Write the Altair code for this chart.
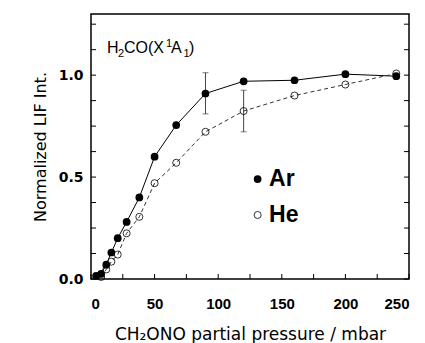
import altair as alt
import pandas as pd

# ---- data ----
ar_x = [4, 8, 12, 16, 21, 28, 38, 50, 67, 90, 120, 160, 200, 240]
ar_y = [0.015, 0.025, 0.07, 0.13, 0.20, 0.28, 0.40, 0.60, 0.755, 0.91, 0.97, 0.975, 1.005, 0.995]
he_x = [8, 12, 16, 21, 28, 38, 50, 67, 90, 120, 160, 200, 240]
he_y = [0.01, 0.047, 0.085, 0.12, 0.224, 0.305, 0.47, 0.57, 0.722, 0.824, 0.90, 0.954, 1.008]
err_series = ["Ar", "He"]
err_x = [90, 120]
err_lo = [0.81, 0.722]
err_hi = [1.012, 0.926]
x_major = [0, 50, 100, 150, 200, 250]
x_minor = [25, 75, 125, 175, 225]
y_ticks = [0.125 * i for i in range(11)]
legend_labels = ["Ar", "He"]
title_parts = ["H", "2", "CO(X", "1", "A", "1", ")"]

df = pd.concat([
    pd.DataFrame({"x": ar_x, "y": ar_y, "s": "Ar"}),
    pd.DataFrame({"x": he_x, "y": he_y, "s": "He"}),
])
err = pd.DataFrame({"s": err_series, "x": err_x, "lo": err_lo, "hi": err_hi})

X = alt.Scale(domain=[0, 250], nice=False, zero=False)
Y = alt.Scale(domain=[0, 1.3], nice=False, zero=False)
FONT = "Liberation Sans"
WIDE = "DejaVu Sans"

xenc = alt.X("x:Q", scale=X, axis=alt.Axis(
    values=x_major, format="d", tickSize=0, domain=False, grid=False,
    labelFont=FONT, labelFontSize=15, labelFontWeight="bold", labelColor="black",
    labelPadding=17, title="CH₂ONO partial pressure / mbar", titleFont=WIDE,
    titleFontSize=17, titleFontWeight="normal", titleColor="black", titlePadding=15))
yenc = alt.Y("y:Q", scale=Y, axis=alt.Axis(
    values=[0, 0.5, 1.0], format=".1f", tickSize=0, domain=False, grid=False,
    labelFont=WIDE, labelFontSize=14, labelFontWeight="bold", labelColor="black",
    labelPadding=8, title="Normalized LIF Int.", titleFont=WIDE,
    titleFontSize=16, titleFontWeight="normal", titleColor="black", titlePadding=10))

base = alt.Chart(df)
line_ar = base.transform_filter("datum.s == 'Ar'").mark_line(color="black", strokeWidth=1).encode(x=xenc, y=yenc)
line_he = base.transform_filter("datum.s == 'He'").mark_line(color="#333", strokeWidth=1, strokeDash=[4, 3]).encode(x="x:Q", y="y:Q")
pts_he = base.transform_filter("datum.s == 'He'").mark_point(shape="circle", filled=False, stroke="black", strokeWidth=0.8, size=50, opacity=1).encode(x="x:Q", y="y:Q")
pts_ar = base.transform_filter("datum.s == 'Ar'").mark_point(shape="circle", filled=True, color="black", size=60, opacity=1).encode(x="x:Q", y="y:Q")

eb = alt.Chart(err)
err_rule = eb.mark_rule(color="#444", strokeWidth=1).encode(x="x:Q", y="lo:Q", y2="hi:Q")
cap_lo = eb.mark_tick(orient="horizontal", color="#444", size=6, thickness=1).encode(x="x:Q", y="lo:Q")
cap_hi = eb.mark_tick(orient="horizontal", color="#444", size=6, thickness=1).encode(x="x:Q", y="hi:Q")

# ticks (inward)
xt = pd.DataFrame({"x": x_major + x_minor})
xt_bot = alt.Chart(xt).mark_rule(color="black", strokeWidth=1).encode(x="x:Q", y=alt.value(265), y2=alt.value(260))
yt = pd.DataFrame({"y": y_ticks})
yt_left = alt.Chart(yt).mark_rule(color="black", strokeWidth=1).encode(y="y:Q", x=alt.value(0), x2=alt.value(5))
yt_right = alt.Chart(yt).mark_rule(color="black", strokeWidth=1).encode(y="y:Q", x=alt.value(318), x2=alt.value(313))

# legend
leg = pd.DataFrame({"s": legend_labels, "lx": [131, 131], "ly": [0.49, 0.314], "tx": [140, 140]})
leg_ar = alt.Chart(leg).transform_filter("datum.s == 'Ar'").mark_point(shape="circle", filled=True, color="black", size=60, opacity=1).encode(x="lx:Q", y="ly:Q")
leg_he = alt.Chart(leg).transform_filter("datum.s == 'He'").mark_point(shape="circle", filled=False, stroke="black", strokeWidth=0.8, size=50, opacity=1).encode(x="lx:Q", y="ly:Q")
leg_txt = alt.Chart(leg).mark_text(align="left", baseline="middle", font=FONT, fontSize=23, fontWeight="bold", color="black").encode(x="tx:Q", y="ly:Q", text="s:N")

# in-plot label H2CO(X1A1) with sub/superscripts
tp = pd.DataFrame({
    "t": title_parts,
    "px": [16, 27, 33, 75, 80, 92.5, 98],
    "py": [39, 43, 39, 33, 39, 43, 39],
    "fs": [16, 11, 16, 11, 16, 11, 16],
})
title_txt = alt.Chart(tp).mark_text(
    align="left", baseline="alphabetic", font=FONT, color="black").encode(
    x=alt.X("px:Q", scale=None), y=alt.Y("py:Q", scale=None), text="t:N",
    size=alt.Size("fs:Q", scale=None, legend=None))

chart = alt.layer(
    line_ar, line_he, err_rule, cap_lo, cap_hi, pts_he, pts_ar,
    xt_bot, yt_left, yt_right, leg_ar, leg_he, leg_txt, title_txt
).properties(
    width=318, height=265,
    autosize=alt.AutoSizeParams(type="none"),
    padding={"left": 91, "top": 14, "right": 16, "bottom": 64},
    background="white",
).configure_view(stroke="black", strokeWidth=1.5)

chart.save("out.html", embed_options={"renderer": "svg", "actions": False})
